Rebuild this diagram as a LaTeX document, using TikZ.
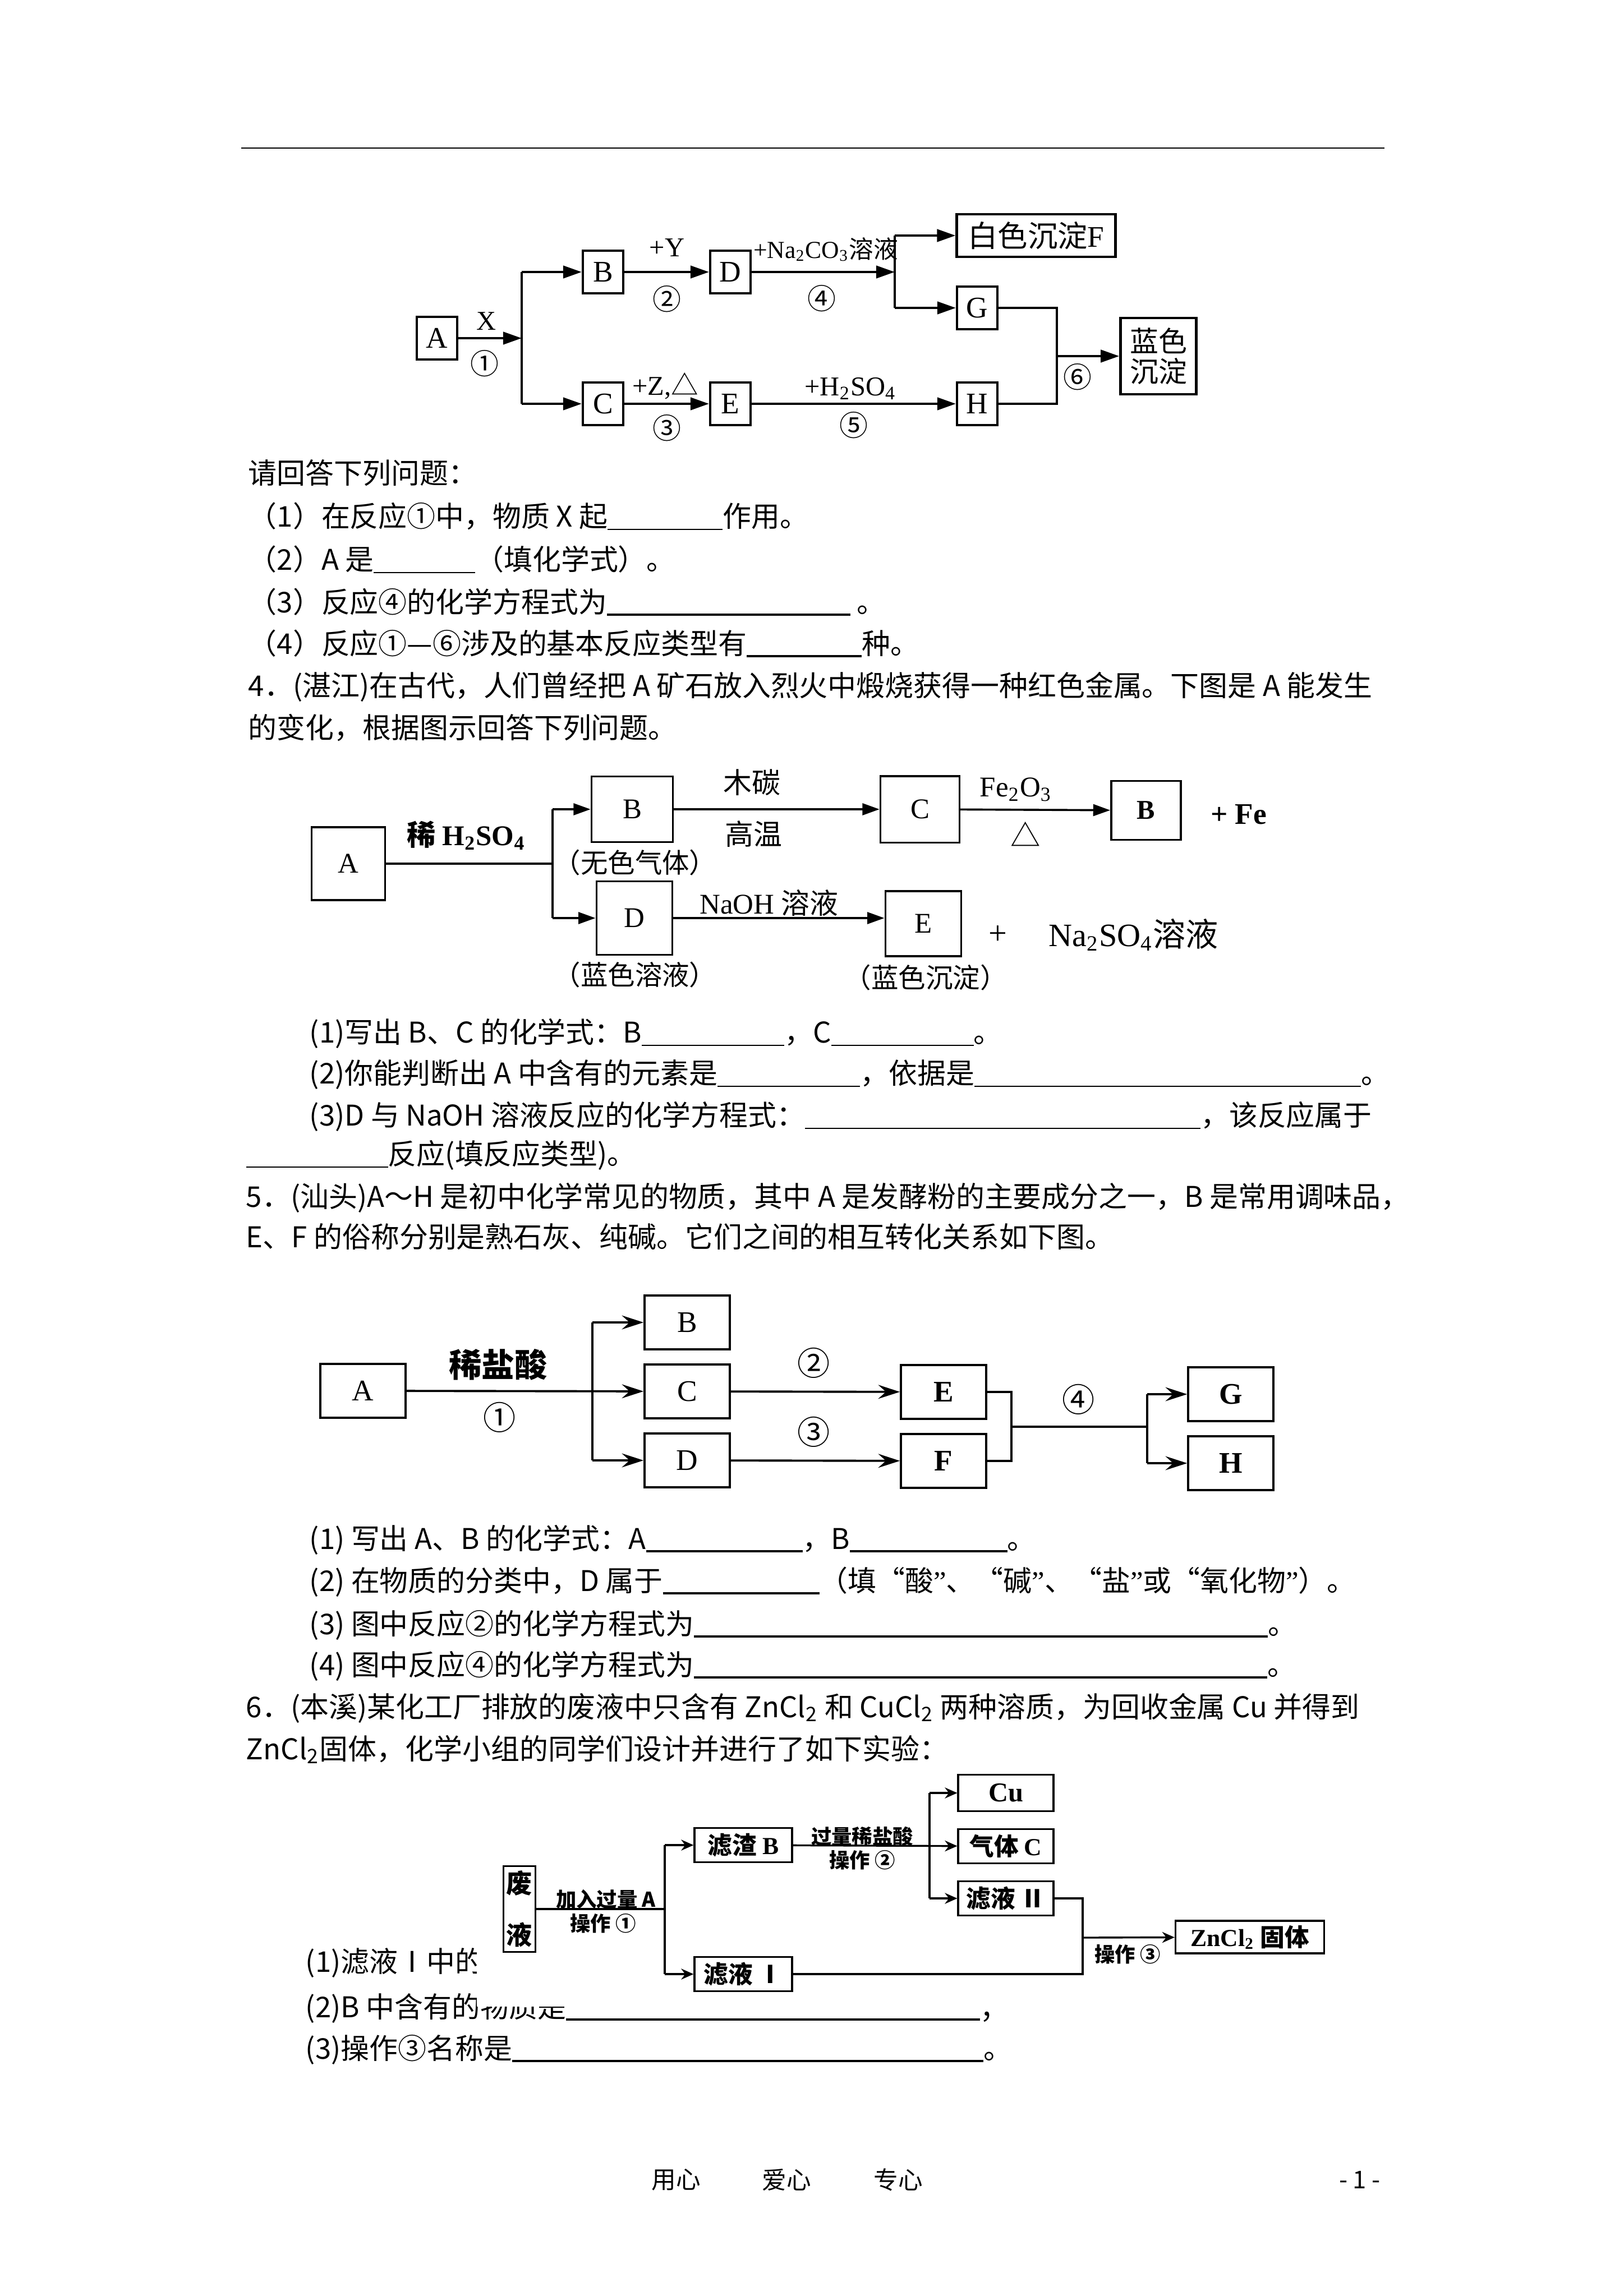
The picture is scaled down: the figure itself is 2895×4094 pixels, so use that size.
\documentclass[tikz,border=0pt]{standalone}
\usepackage{fontspec}
\setmainfont{Noto Sans CJK SC}
\newfontfamily\cjk{Noto Sans CJK SC}
\newfontfamily\lat{Liberation Serif}
\usetikzlibrary{positioning,arrows.meta}
\newlength\pxu
\setlength\pxu{0.0072539cm}
\newcommand\blank[1]{\rule[-1.2pt]{#1\pxu}{0.45pt}}
\newcommand\Blank[1]{\rule[-1.2pt]{#1\pxu}{0.8pt}}

\begin{document}
\begin{tikzpicture}[x=0.0072539cm,y=-0.0072539cm]
\tikzstyle{every node}+=[inner sep=0pt]
\tikzstyle{para}=[anchor=base west,font=\fontsize{10.5}{12}\selectfont]
\tikzstyle{boxa}=[draw,line width=0.9pt,minimum width=0.52cm,minimum height=0.55cm,font=\lat\fontsize{11}{12}\selectfont]
\tikzstyle{lina}=[line width=0.9pt]
\tikzstyle{arra}=[line width=0.9pt,-{Triangle[length=0.24cm,width=0.16cm]}]
\tikzstyle{laba}=[font=\lat\fontsize{10}{12}\selectfont]
\tikzstyle{cir}=[font=\fontsize{10.5}{12}\selectfont]
\tikzstyle{boxb}=[draw,line width=0.75pt,font=\lat\fontsize{10.5}{12}\selectfont]
\tikzstyle{linb}=[line width=0.75pt]
\tikzstyle{arrb}=[line width=0.75pt,-{Triangle[length=0.22cm,width=0.15cm]}]
\tikzstyle{labb}=[font=\lat\fontsize{10.5}{12}\selectfont]
\tikzstyle{boxc}=[draw,line width=0.8pt,minimum width=1.1cm,minimum height=0.69cm,font=\lat\fontsize{11}{12}\selectfont]
\tikzstyle{linc}=[line width=0.8pt]
\tikzstyle{arrc}=[line width=0.8pt,-{Stealth[length=0.28cm,width=0.18cm,inset=0.1cm]}]
\tikzstyle{boxd}=[draw,line width=0.7pt,minimum width=1.26cm,minimum height=0.44cm,font=\bfseries\fontsize{9}{11}\selectfont]
\tikzstyle{lind}=[line width=0.7pt]
\tikzstyle{arrd}=[line width=0.7pt,-{Stealth[length=0.16cm,width=0.14cm]}]
\tikzstyle{labd}=[font=\bfseries\fontsize{7.5}{9}\selectfont]
\fill [white] (0,0) rectangle (2895,4094);
\useasboundingbox (0,0) rectangle (2895,4094);
% header rule
\coordinate (hl) at (430,264);
\coordinate (hr) at (2468,264);
\draw [line width=0.6pt] (hl) -- (hr);
% diagram 1
\node [boxa] (A1) at (779,603) {A};
\node [boxa] (B1) at (1075,485) {B};
\node [boxa] (D1) at (1302,485) {D};
\node [boxa] (C1) at (1075,720) {C};
\node [boxa] (E1) at (1302,720) {E};
\node [boxa,minimum width=2.05cm] (F1) at (1847,420) {{\cjk 白色沉淀}F};
\node [boxa] (G1) at (1742,549) {G};
\node [boxa] (H1) at (1742,720) {H};
\node [boxa,minimum width=0.98cm,minimum height=0.99cm,align=center,font=\fontsize{10.5}{11}\selectfont] (L1) at (2065,635) {蓝色\\沉淀};
\coordinate (j1) at (930,603);
\coordinate (j2) at (1595,485);
\coordinate (j3) at (1884,635);
\draw [arra] (A1) -- (j1);
\draw [lina] (j1 |- B1) -- (j1 |- C1);
\draw [arra] (j1 |- B1) -- (B1);
\draw [arra] (j1 |- C1) -- (C1);
\draw [arra] (B1) -- (D1);
\draw [arra] (C1) -- (E1);
\draw [arra] (D1) -- (j2);
\draw [lina] (j2 |- F1) -- (j2 |- G1);
\draw [arra] (j2 |- F1) -- (F1);
\draw [arra] (j2 |- G1) -- (G1);
\draw [arra] (E1) -- (H1);
\draw [lina] (G1.east) -| (j3) |- (H1.east);
\draw [arra] (j3) -- (L1);
\node [laba] (x1) at (867,573) {X};
\node [cir] (n1) at (864,648) {①};
\node [laba] (y1) at (1189,442) {+Y};
\node [cir] (n2) at (1189,533) {②};
\node [laba,font=\lat\fontsize{9}{12}\selectfont] (na1) at (1472,445) {+Na\textsubscript{2}CO\textsubscript{3}{\cjk 溶液}};
\node [cir] (n4) at (1465,532) {④};
\node [laba] (z1) at (1186,688) {+Z,{\cjk △}};
\node [cir] (n3) at (1189,763) {③};
\node [laba] (h1) at (1516,693) {+H\textsubscript{2}SO\textsubscript{4}};
\node [cir] (n5) at (1522,758) {⑤};
\node [cir] (n6) at (1921,672) {⑥};
% questions after diagram 1
\node [para] (q1) at (442,862) {请回答下列问题：};
\node [para] (q2) at (442,939) {（1）在反应①中，物质 X 起\blank{205}作用。};
\node [para] (q3) at (442,1016) {（2）A 是\blank{181}（填化学式）。};
\node [para] (q4) at (442,1092) {（3）反应④的化学方程式为\Blank{434} 。};
\node [para] (q5) at (442,1166) {（4）反应①—⑥涉及的基本反应类型有\Blank{205}种。};
\node [para] (q6) at (442,1241) {4．(湛江)在古代，人们曾经把 A 矿石放入烈火中煅烧获得一种红色金属。下图是 A 能发生};
\node [para] (q7) at (442,1316) {的变化，根据图示回答下列问题。};
% diagram 4
\node [boxb,minimum width=0.95cm,minimum height=0.94cm] (A4) at (621,1540) {A};
\node [boxb,minimum width=1.05cm,minimum height=0.85cm] (B4) at (1127,1443) {B};
\node [boxb,minimum width=1.02cm,minimum height=0.86cm] (C4) at (1640,1443) {C};
\node [boxb,minimum width=0.9cm,minimum height=0.76cm,font=\lat\bfseries\fontsize{10}{12}\selectfont] (B4b) at (2043,1445) {B};
\node [boxb,minimum width=0.98cm,minimum height=0.95cm] (D4) at (1131,1637) {D};
\node [boxb,minimum width=0.98cm,minimum height=0.84cm] (E4) at (1646,1647) {E};
\coordinate (j4) at (985,1540);
\draw [linb] (A4) -- (j4);
\draw [linb] (j4 |- B4) -- (j4 |- D4);
\draw [arrb] (j4 |- B4) -- (B4);
\draw [arrb] (j4 |- D4) -- (D4);
\draw [arrb] (B4) -- (C4);
\draw [arrb] (C4) -- (B4b);
\draw [arrb] (D4.east) -- (D4.east -| E4.west);
\node [labb,font=\lat\bfseries\fontsize{10.5}{12}\selectfont] (s4) at (831,1490) {{\cjk 稀} H\textsubscript{2}SO\textsubscript{4}};
\node [font=\fontsize{10}{12}\selectfont] (w4) at (1132,1538) {（无色气体）};
\node [font=\fontsize{10.5}{12}\selectfont] (m4) at (1340,1395) {木碳};
\node [font=\fontsize{10.5}{12}\selectfont] (g4) at (1343,1487) {高温};
\node [labb] (f4) at (1811,1408) {Fe\textsubscript{2}O\textsubscript{3}};
\node [font=\fontsize{11}{12}\selectfont] (t4) at (1828,1487) {△};
\node [labb,font=\lat\bfseries\fontsize{11}{12}\selectfont] (fe4) at (2208,1452) {+ Fe};
\node [labb] (o4) at (1371,1610) {NaOH {\cjk 溶液}};
\node [labb,font=\lat\fontsize{12}{12}\selectfont] (p4) at (1779,1667) {+};
\node [labb,font=\lat\fontsize{12}{12}\selectfont] (na4) at (2021,1667) {Na\textsubscript{2}SO\textsubscript{4}{\cjk 溶液}};
\node [font=\fontsize{10}{12}\selectfont] (bd4) at (1132,1738) {（蓝色溶液）};
\node [font=\fontsize{10}{12}\selectfont] (bc4) at (1650,1743) {（蓝色沉淀）};
% questions after diagram 4
\node [para] (r1) at (551,1859) {(1)写出 B、C 的化学式：B\blank{254}，C\blank{254}。};
\node [para] (r2) at (551,1932) {(2)你能判断出 A 中含有的元素是\blank{254}，依据是\blank{689}。};
\node [para] (r3) at (551,2007) {(3)D 与 NaOH 溶液反应的化学方程式：\blank{705}，该反应属于};
\node [para] (r4) at (438,2076) {\blank{253}反应(填反应类型)。};
\node [para] (r5) at (438,2152) {5．(汕头)A～H 是初中化学常见的物质，其中 A 是发酵粉的主要成分之一，B 是常用调味品，};
\node [para] (r6) at (438,2224) {E、F 的俗称分别是熟石灰、纯碱。它们之间的相互转化关系如下图。};
% diagram 5
\node [boxc] (A5) at (647,2480) {A};
\node [boxc] (B5) at (1225,2358) {B};
\node [boxc] (C5) at (1225,2481) {C};
\node [boxc] (D5) at (1225,2604) {D};
\node [boxc,font=\lat\bfseries\fontsize{11}{12}\selectfont] (E5) at (1682,2482) {E};
\node [boxc,font=\lat\bfseries\fontsize{11}{12}\selectfont] (F5) at (1682,2605) {F};
\node [boxc,font=\lat\bfseries\fontsize{11}{12}\selectfont] (G5) at (2194,2486) {G};
\node [boxc,font=\lat\bfseries\fontsize{11}{12}\selectfont] (H5) at (2194,2609) {H};
\coordinate (j5) at (1056,2481);
\coordinate (j6) at (1803,2544);
\coordinate (j7) at (2045,2544);
\draw [arrc] (A5) -- (C5);
\draw [linc] (j5 |- B5) -- (j5 |- D5);
\draw [arrc] (j5 |- B5) -- (B5);
\draw [arrc] (j5 |- D5) -- (D5);
\draw [arrc] (C5) -- (E5);
\draw [arrc] (D5) -- (F5);
\draw [linc] (E5.east) -| (j6) |- (F5.east);
\draw [linc] (j6) -- (j7);
\draw [linc] (j7 |- G5) -- (j7 |- H5);
\draw [arrc] (j7 |- G5) -- (G5);
\draw [arrc] (j7 |- H5) -- (H5);
\node [font=\bfseries\fontsize{12}{12}\selectfont] (s5) at (888,2433) {稀盐酸};
\node [font=\fontsize{12}{12}\selectfont] (m1) at (891,2527) {①};
\node [font=\fontsize{12}{12}\selectfont] (m2) at (1451,2430) {②};
\node [font=\fontsize{12}{12}\selectfont] (m3) at (1451,2553) {③};
\node [font=\fontsize{12}{12}\selectfont] (m4) at (1923,2495) {④};
% questions after diagram 5
\node [para] (u1) at (551,2762) {(1) 写出 A、B 的化学式：A\Blank{279}，B\Blank{281}。};
\node [para] (u2) at (551,2837) {(2) 在物质的分类中，D 属于\Blank{279}（填“酸{\lat ”}、“碱{\lat ”}、“盐{\lat ”}或“氧化物{\lat ”}）。};
\node [para] (u3) at (551,2914) {(3) 图中反应②的化学方程式为\Blank{1023}。};
\node [para] (u4) at (551,2987) {(4) 图中反应④的化学方程式为\Blank{1022}。};
\node [para] (u5) at (438,3062) {6．(本溪)某化工厂排放的废液中只含有 ZnCl\textsubscript{2} 和 CuCl\textsubscript{2} 两种溶质，为回收金属 Cu 并得到};
\node [para] (u6) at (438,3137) {ZnCl\textsubscript{2}固体，化学小组的同学们设计并进行了如下实验：};
% questions after diagram 6
\node [para] (v1) at (544,3516) {(1)滤液Ⅰ中的};
\node [para] (v2) at (544,3597) {(2)B 中含有的物质是\Blank{738}；};
\node [para] (v3) at (544,3671) {(3)操作③名称是\Blank{840}。};
% diagram 6
\fill [white] (850,3150) rectangle (2440,3578);
\node [boxd,minimum width=0.41cm,minimum height=1.11cm,align=center,font=\bfseries\fontsize{9.5}{19}\selectfont] (W6) at (926,3404) {废\\液};
\node [boxd] (R6) at (1325,3290) {滤渣 {\lat B}};
\node [boxd] (L6) at (1325,3520) {滤液 Ⅰ};
\node [boxd,minimum width=1.23cm,minimum height=0.47cm,font=\lat\bfseries\fontsize{10}{11}\selectfont] (Cu6) at (1793,3197) {Cu};
\node [boxd,minimum width=1.23cm] (G6) at (1793,3292) {气体 {\lat C}};
\node [boxd,minimum width=1.23cm] (L26) at (1793,3385) {滤液 Ⅱ};
\node [boxd,minimum width=1.92cm,minimum height=0.42cm] (Z6) at (2228,3454) {{\lat ZnCl\textsubscript{2}} 固体};
\coordinate (j8) at (1185,3404);
\coordinate (j9) at (1657,3292);
\coordinate (j10) at (1930,3455);
\draw [lind] (W6) -- (j8);
\draw [lind] (j8 |- R6) -- (j8 |- L6);
\draw [arrd] (j8 |- R6) -- (R6);
\draw [arrd] (j8 |- L6) -- (L6);
\draw [arrd] (R6) -- (G6);
\draw [lind] (j9 |- Cu6) -- (j9 |- L26);
\draw [arrd] (j9 |- Cu6) -- (Cu6);
\draw [arrd] (j9 |- L26) -- (L26);
\draw [lind] (L26.east) -| (j10 |- L6) -- (L6.east);
\draw [arrd] (j10) -- (Z6);
\node [labd] (a6) at (1080,3387) {加入过量 A};
\node [labd] (o61) at (1075,3430) {操作 ①};
\node [labd] (e6) at (1537,3275) {过量稀盐酸};
\node [labd] (o62) at (1537,3317) {操作 ②};
\node [labd] (o63) at (2010,3485) {操作 ③};
% footer
\node [font=\fontsize{9}{10}\selectfont] (k1) at (1205,3887) {用心};
\node [font=\fontsize{9}{10}\selectfont] (k2) at (1402,3887) {爱心};
\node [font=\fontsize{9}{10}\selectfont] (k3) at (1601,3887) {专心};
\node [font=\fontsize{9}{10}\selectfont] (k4) at (2424,3887) {- 1 -};
\end{tikzpicture}
\end{document}
